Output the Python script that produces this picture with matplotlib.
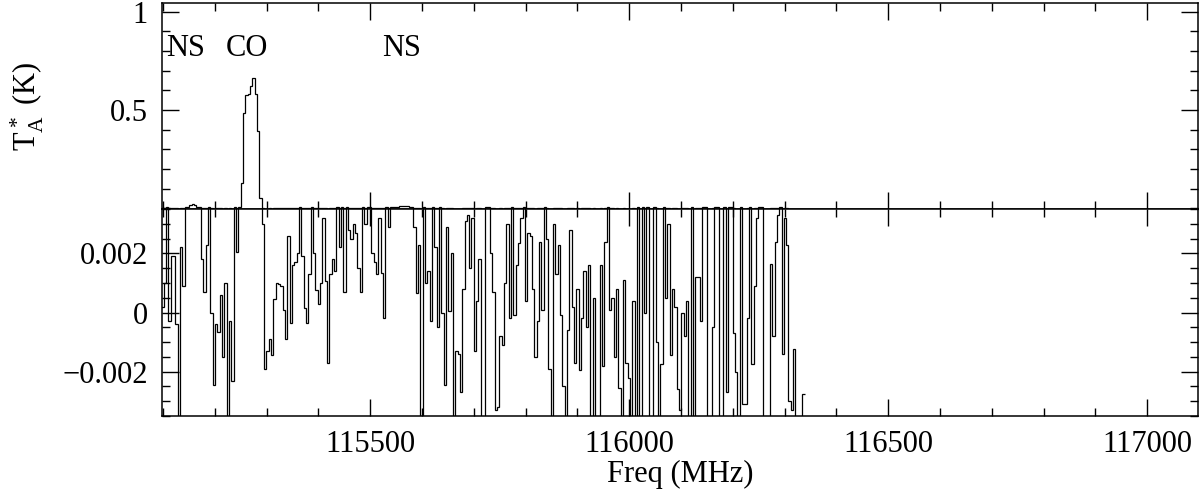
import numpy as np
import matplotlib
matplotlib.use('Agg')  # no display
import matplotlib.pyplot as plt
from matplotlib.ticker import MultipleLocator, FixedLocator, FixedFormatter

plt.rcParams['font.family'] = ['Liberation Serif', 'DejaVu Serif']

# spectrum: first channel edge and channel width (MHz)
freq_start = 115097.0
chan_width = 4.5

# antenna temperature per channel, in mK
ta_mk = [
    0.2, 1.0, 4.5, -0.3, 1.9, 1.9, -0.4, -5, 2.2, 0.9,
    4.5, 8, 15, 20, 15, 8, 4.5, 1.8, 0.7, 2.3,
    4.5, 0.0, -2.45, -0.4, -0.65, 0.6, -1.5, 1.0, -5, -0.3,
    -2.3, 4.5, 2.05, 8, 127, 487, 576, 580, 622, 665,
    583, 393, 50, 3.0, -1.9, -1.3, -0.9, -1.45, 0.45, 1.0,
    0.95, 0.9, 0.1, -0.9, 2.6, -0.35, 1.6, 1.7, 2.0, 4.5,
    1.9, 0.15, -0.35, 1.3, 4.5, 2.0, 0.75, 0.3, 1.0, 3.2,
    1.05, -1.7, 1.3, 1.8, 1.4, 4.5, 2.2, 4.5, 0.7, 4.5,
    2.8, 2.5, 3.0, 2.7, 1.5, 0.7, 4.5, 3.0, 4.5, 4.5,
    2.0, 1.7, 1.3, 3.2, 1.35, -0.2, 4.5, 2.9, 4.5, 5,
    6, 8, 13, 13, 10, 10, 8, 5, 2.9, 0.65,
    2.3, -5, 4.5, 1.0, 1.4, -0.3, 4.5, 2.2, -0.5, 4.5,
    0.0, -2.45, 2.9, 0.05, 2.0, -5, -1.3, -1.4, -2.7, 0.8,
    3.1, 3.3, 1.5, 3.2, -1.3, 0.4, 1.8, -5, -5, 4.5,
    4.5, 2.0, 0.7, -3.3, -3.2, -0.8, -1.1, 1.0, 3.0, -0.2,
    4.5, -0.1, 1.6, 2.35, 3.2, 4.5, 0.4, 2.7, 2.6, 0.8,
    -1.5, -0.3, 2.4, 0.1, 4.5, 2.5, -1.9, -5, 3.0, 1.3,
    2.3, -0.1, -2.5, -5, -0.6, 2.8, 0.2, -1.7, 0.8, -1.95,
    -0.2, 1.4, -0.5, 1.6, -5, 0.5, -5, -5, 1.6, -1.8,
    2.4, 4.5, 0.1, 0.5, -1.5, 0.8, -2.55, -5, 1.1, -1.7,
    -2.2, -5, 0.4, -5, 4.5, -5, 4.5, 0.0, 4.5, -5,
    -5, 4.5, -1.0, -5, -1.75, 4.5, 0.5, 3.0, -1.45, 0.8,
    0.2, -2.6, -3.3, 0.0, -0.8, 0.4, -5, 4.5, -5, 1.2,
    1.2, -0.3, 4.5, 4.5, -5, -5, -0.5, 4.5, 4.5, -5,
    -5, 4.5, -2.7, 4.5, 4.5, -0.7, -2.0, -5, 4.5, -3.1,
    -3.1, -0.2, 4.5, -1.75, 0.9, 3.2, 4.5, 4.5, -5, -5,
    -5, 1.65, -0.8, 2.4, 3.3, 4.5, -1.4, 3.2, 2.3, -3.0,
    -3.3, -1.25, -5, -5, -5, -2.75,
]

line_names = ['NS', 'CO', 'NS']
line_freqs = [115143, 115262, 115560]

xticks = [115500, 116000, 116500, 117000]
top_yticks = [0.5, 1.0]
top_ylabels = ['0.5', '1']
bot_yticks = [-0.002, 0.0, 0.002]
bot_ylabels = ['\u22120.002', '0', '0.002']

ta = np.array(ta_mk) * 1e-3
edges = freq_start + chan_width * np.arange(len(ta) + 1)

fig = plt.figure(figsize=(12, 4.9), dpi=100)
ax_top = fig.add_axes([0.135, 0.5735, 0.8633, 0.4204])
ax_bot = fig.add_axes([0.135, 0.151, 0.8633, 0.4224], sharex=ax_top)

for ax in (ax_top, ax_bot):
    ax.stairs(ta, edges, color='black', lw=0.9, baseline=None)
    ax.set_xlim(115098, 117098)
    ax.xaxis.set_major_locator(FixedLocator(xticks))
    ax.xaxis.set_minor_locator(MultipleLocator(100))
    ax.tick_params(which='both', direction='in', top=True, right=True,
                   width=1.0, labelsize=22, pad=10)
    ax.tick_params(which='major', length=12)
    ax.tick_params(which='minor', length=6)
    for s in ax.spines.values():
        s.set_linewidth(1.1)

ax_top.set_ylim(-0.0035, 1.045)
ax_top.yaxis.set_major_locator(FixedLocator(top_yticks))
ax_top.yaxis.set_major_formatter(FixedFormatter(top_ylabels))
ax_top.yaxis.set_minor_locator(MultipleLocator(0.1))
ax_top.tick_params(labelbottom=False)
ax_top.set_ylabel(r'$\mathregular{T^*_A}$ (K)', fontsize=22)
ax_top.yaxis.set_label_coords(-0.112, 0.5)

for name, f in zip(line_names, line_freqs):
    ax_top.text(f, 0.775, name, ha='center', va='baseline', fontsize=22)

ax_bot.set_ylim(-0.0035, 0.0035)
ax_bot.yaxis.set_major_locator(FixedLocator(bot_yticks))
ax_bot.yaxis.set_major_formatter(FixedFormatter(bot_ylabels))
ax_bot.yaxis.set_minor_locator(MultipleLocator(0.0005))
ax_bot.xaxis.set_major_formatter(FixedFormatter([str(t) for t in xticks]))
ax_bot.set_xlabel('Freq (MHz)', fontsize=22, labelpad=1)

fig.savefig('out.png', dpi=100)
plt.close(fig)
